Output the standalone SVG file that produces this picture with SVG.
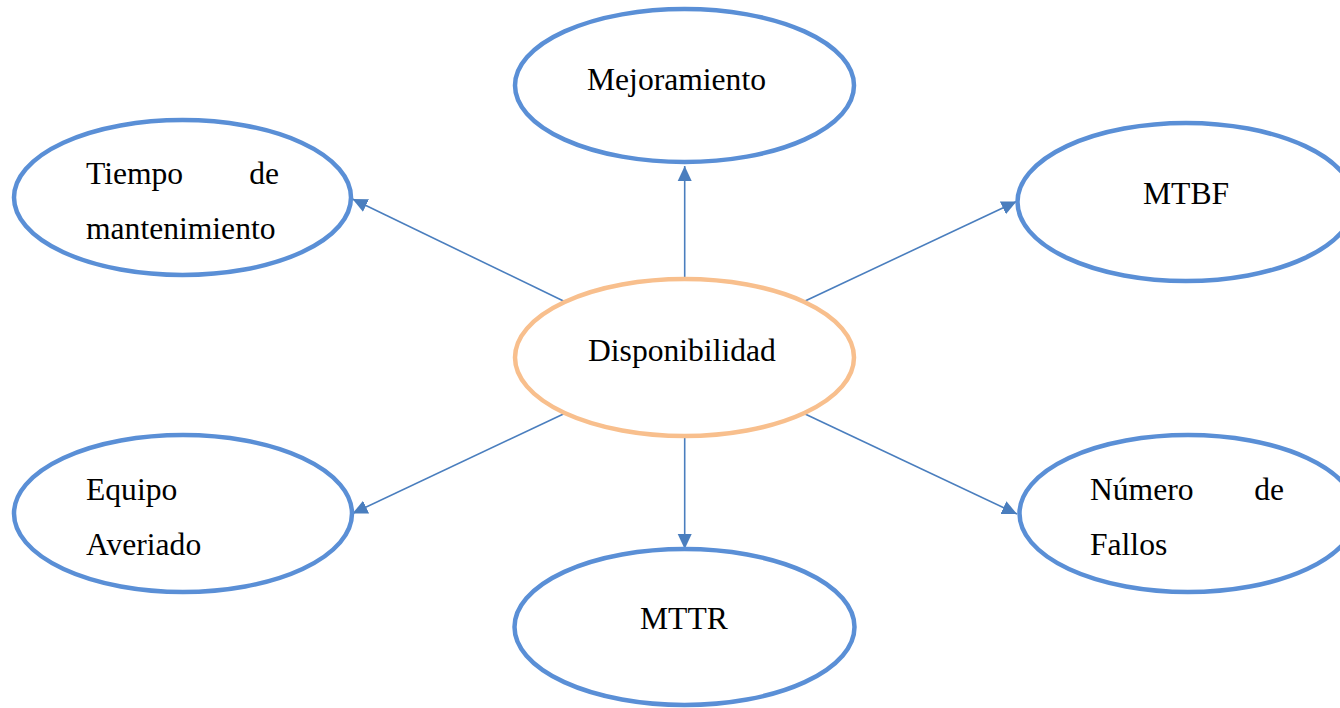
<svg xmlns="http://www.w3.org/2000/svg" width="1340" height="708" viewBox="0 0 1340 708">
  <style>
    .node { fill: #FFFFFF; stroke: #5A8FD6; stroke-width: 4.5; }
    .center { fill: #FFFFFF; stroke: #F8BF8D; stroke-width: 4.5; }
    .label { font-family: "Liberation Serif", "Times New Roman", serif; font-size: 31.6px; fill: #000000; }
    .conn { stroke: #4A7EBE; stroke-width: 1.6; fill: none; marker-end: url(#arrow); }
  </style>
  <defs>
    <marker id="arrow" markerUnits="userSpaceOnUse" markerWidth="16" markerHeight="16" viewBox="0 0 16 16" refX="15" refY="8" orient="auto">
      <path d="M0,1 L15,8 L0,15 Z" fill="#4A7EBE"/>
    </marker>
  </defs>
  <rect width="1340" height="708" fill="#FFFFFF"/>

  <g id="connectors">
    <line class="conn" x1="684.7" y1="278" x2="684.7" y2="166"/>
    <line class="conn" x1="564.5" y1="301.5" x2="352.5" y2="199"/>
    <line class="conn" x1="804" y1="301.5" x2="1016.5" y2="201.5"/>
    <line class="conn" x1="564.5" y1="413.5" x2="352.5" y2="513.5"/>
    <line class="conn" x1="804" y1="413.5" x2="1017" y2="514"/>
    <line class="conn" x1="684.7" y1="437" x2="684.7" y2="549"/>
  </g>

  <g id="node-mejoramiento">
    <ellipse class="node" cx="684.5" cy="85.5" rx="169.5" ry="76.5"/>
    <text class="label" x="587" y="90">Mejoramiento</text>
  </g>

  <g id="node-tiempo">
    <ellipse class="node" cx="182.5" cy="197.5" rx="168.5" ry="77.5"/>
    <text class="label" x="86" y="184">Tiempo</text>
    <text class="label" x="279" y="184" text-anchor="end">de</text>
    <text class="label" x="86" y="239">mantenimiento</text>
  </g>

  <g id="node-mtbf">
    <ellipse class="node" cx="1186" cy="202" rx="168.5" ry="79"/>
    <text class="label" x="1143" y="204">MTBF</text>
  </g>

  <g id="node-disponibilidad">
    <ellipse class="center" cx="684.5" cy="357.5" rx="169.5" ry="78.5"/>
    <text class="label" x="588" y="361">Disponibilidad</text>
  </g>

  <g id="node-equipo">
    <ellipse class="node" cx="183" cy="513.5" rx="169" ry="78.5"/>
    <text class="label" x="86" y="500">Equipo</text>
    <text class="label" x="86" y="555">Averiado</text>
  </g>

  <g id="node-numero">
    <ellipse class="node" cx="1188" cy="513.5" rx="168.5" ry="78.5"/>
    <text class="label" x="1090" y="500">Número</text>
    <text class="label" x="1284" y="500" text-anchor="end">de</text>
    <text class="label" x="1090" y="555">Fallos</text>
  </g>

  <g id="node-mttr">
    <ellipse class="node" cx="684.5" cy="627" rx="170" ry="78"/>
    <text class="label" x="640" y="629">MTTR</text>
  </g>
</svg>
